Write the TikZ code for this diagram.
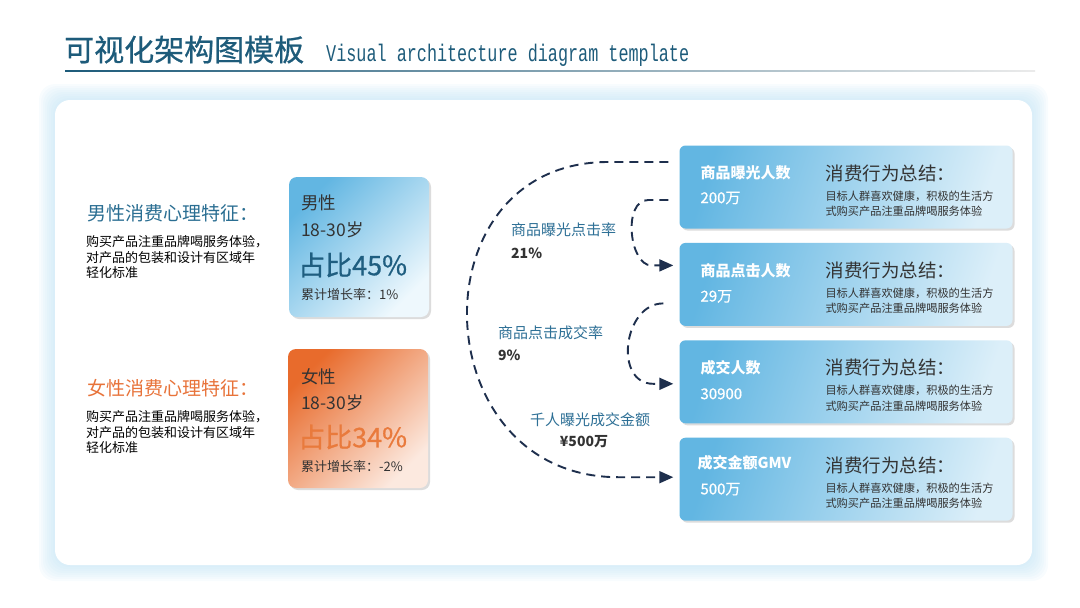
\documentclass[tikz,border=0pt]{standalone}
\usepackage{fontspec}
\setmainfont{Noto Sans CJK SC}
\newfontfamily\cjkmedium[FakeBold=0.7]{Noto Sans CJK SC}
\newfontfamily\latinmono[FakeStretch=0.7]{Liberation Mono}
\usetikzlibrary{positioning, calc, arrows.meta, shadows}

\definecolor{titleblue}{HTML}{1D5B7A}
\definecolor{maleblue}{HTML}{2A6E92}
\definecolor{femaleorange}{HTML}{E8733A}
\definecolor{pctblue}{HTML}{1F5E80}
\definecolor{pctorange}{HTML}{E97A3C}
\definecolor{linkteal}{HTML}{2E7096}
\definecolor{flownavy}{HTML}{1E2F4D}
\definecolor{textgray}{HTML}{333333}
\definecolor{glowblue}{HTML}{BFE2F4}
\definecolor{cardblue}{HTML}{62B6E2}
\definecolor{cardlight}{HTML}{EEF8FD}
\definecolor{rcardlight}{HTML}{DCEFF9}
\definecolor{cardorange}{HTML}{E86B2C}
\definecolor{orangelight}{HTML}{FCE9DF}

\begin{document}
\begin{tikzpicture}[
    x=1pt, y=-1pt,
    every node/.style={inner sep=0pt},
    soft shadow/.style={drop shadow={shadow xshift=2pt, shadow yshift=-2pt, fill=black!45, opacity=.3}},
    malecard/.style={rounded corners=8pt, minimum width=140pt, minimum height=140pt,
      soft shadow, top color=cardblue, bottom color=cardlight, shading angle=45},
    femalecard/.style={rounded corners=8pt, minimum width=140pt, minimum height=139pt,
      soft shadow, top color=cardorange, bottom color=orangelight, shading angle=45},
    rcard/.style={rounded corners=6pt, minimum width=333pt, minimum height=83pt,
      soft shadow, top color=cardblue, bottom color=rcardlight, shading angle=72},
    sexlabel/.style={font=\fontsize{19}{22}\selectfont, anchor=west},
    sexbody/.style={font=\fontsize{13}{15.5}\selectfont, align=left, anchor=west},
    cardline/.style={font=\fontsize{17.5}{20}\selectfont, text=textgray, anchor=west},
    cardpct/.style={font=\cjkmedium\fontsize{27}{30}\selectfont, anchor=west},
    cardgrow/.style={font=\fontsize{13}{15}\selectfont, text=textgray, anchor=west},
    cardhead/.style={font=\fontsize{15}{18}\selectfont\bfseries, text=white, anchor=west},
    cardval/.style={font=\cjkmedium\fontsize{15}{18}\selectfont, text=white, anchor=west},
    sumhead/.style={font=\fontsize{18.5}{21}\selectfont, text=textgray, anchor=west},
    sumbody/.style={font=\fontsize{11.2}{15.5}\selectfont, text=textgray, align=left, anchor=west},
    ratelabel/.style={font=\fontsize{15}{18}\selectfont, text=linkteal},
    rateval/.style={font=\fontsize{14}{17}\selectfont\bfseries, text=textgray},
    flow/.style={flownavy, line width=1.9pt, dash pattern=on 9pt off 6pt,
      -{Triangle[length=14pt, width=12pt]}}]

  \useasboundingbox (0,0) rectangle (1080,608);

  % title
  \node[anchor=base west, text=titleblue, font=\cjkmedium\fontsize{30}{34}\selectfont] (title) at (64,61) {可视化架构图模板};
  \node[anchor=base west, text=titleblue, font=\latinmono\fontsize{24}{26}\selectfont] (subtitle) at (326,61) {Visual architecture diagram template};
  \shade[left color=titleblue, right color=black!8] (65,70.5) rectangle (1035,71.8);

  % board
  \foreach \r in {16,14,...,2}
    \fill[glowblue, opacity=0.1, rounded corners=16pt] ({55-\r},{100-\r}) rectangle ({1032+\r},{565+\r});
  \node[fill=white, rounded corners=15pt, minimum width=977pt, minimum height=465pt] (board) at (543.5,332.5) {};

  % male
  \node[sexlabel, text=maleblue] (male-label) at (87,213) {男性消费心理特征：};
  \node[sexbody] (male-body) at (86,257.5) {购买产品注重品牌喝服务体验，\\对产品的包装和设计有区域年\\轻化标准};
  \node[malecard] (male) at (359,247) {};
  \node[cardline] (male-name) at (301,203) {男性};
  \node[cardline] (male-age) at (301,230) {18-30岁};
  \node[cardpct, text=pctblue] (male-pct) at (298,265) {占比45\%};
  \node[cardgrow] (male-grow) at (301,295) {累计增长率：1\%};

  % female
  \node[sexlabel, text=femaleorange] (female-label) at (87,388) {女性消费心理特征：};
  \node[sexbody] (female-body) at (86,432.5) {购买产品注重品牌喝服务体验，\\对产品的包装和设计有区域年\\轻化标准};
  \node[femalecard] (female) at (358,418.5) {};
  \node[cardline] (female-name) at (301,377) {女性};
  \node[cardline] (female-age) at (301,403) {18-30岁};
  \node[cardpct, text=pctorange] (female-pct) at (298,437) {占比34\%};
  \node[cardgrow] (female-grow) at (301,467) {累计增长率：-2\%};

  % funnel cards
  \node[rcard] (c1) at (846,187) {};
  \node[rcard, below=14pt of c1] (c2) {};
  \node[rcard, below=14pt of c2] (c3) {};
  \node[rcard, below=14pt of c3] (c4) {};

  \node[cardhead] (c1-name) at ([xshift=21pt, yshift=14pt]c1.west) {商品曝光人数};
  \node[cardval] (c1-val) at ([xshift=21pt, yshift=-11pt]c1.west) {200万};
  \node[cardhead] (c2-name) at ([xshift=21pt, yshift=13.5pt]c2.west) {商品点击人数};
  \node[cardval] (c2-val) at ([xshift=21pt, yshift=-12pt]c2.west) {29万};
  \node[cardhead] (c3-name) at ([xshift=21pt, yshift=14pt]c3.west) {成交人数};
  \node[cardval] (c3-val) at ([xshift=21pt, yshift=-12pt]c3.west) {30900};
  \node[cardhead] (c4-name) at ([xshift=18pt, yshift=16pt]c4.west) {成交金额GMV};
  \node[cardval] (c4-val) at ([xshift=21pt, yshift=-10pt]c4.west) {500万};

  \foreach \c in {c1, c2, c3, c4} {
    \node[sumhead] (\c-sum) at ([xshift=146pt, yshift=14pt]\c.west) {消费行为总结：};
    \node[sumbody] (\c-body) at ([xshift=146pt, yshift=-16.5pt]\c.west) {目标人群喜欢健康，积极的生活方\\式购买产品注重品牌喝服务体验};
  }

  % flows
  \coordinate (f0) at ([xshift=-11pt, yshift=25pt]c1.west);
  \coordinate (f1) at ([xshift=-11pt, yshift=-13pt]c1.west);
  \coordinate (f2) at ([xshift=-16pt, yshift=-19pt]c2.west);
  \coordinate (t2) at ([xshift=-6pt, yshift=19pt]c2.west);
  \coordinate (t3) at ([xshift=-6pt, yshift=-2pt]c3.west);
  \coordinate (t4) at ([xshift=-6pt, yshift=2pt]c4.west);

  \draw[flow] (f0) -- ++(-60,0) .. controls +(-195,0) and +(-195,0) .. ([xshift=-55pt]t4) -- (t4);
  \draw[flow] (f1) -- ++(-20,0) .. controls +(-26,0) and +(-22,0) .. ([xshift=-22pt]t2) -- (t2);
  \draw[flow] (f2) .. controls +(-40,0) and +(-40,0) .. ([xshift=-20pt]t3) -- (t3);

  \node[ratelabel, anchor=west] (rate1) at (511,230) {商品曝光点击率};
  \node[rateval, anchor=west] (rate1-val) at (511,253) {21\%};
  \node[ratelabel, anchor=west] (rate2) at (498,333) {商品点击成交率};
  \node[rateval, anchor=west] (rate2-val) at (498,355) {9\%};
  \node[ratelabel, anchor=west] (rate3) at (530,420) {千人曝光成交金额};
  \node[rateval] (rate3-val) at (584,442) {¥500万};
\end{tikzpicture}
\end{document}
